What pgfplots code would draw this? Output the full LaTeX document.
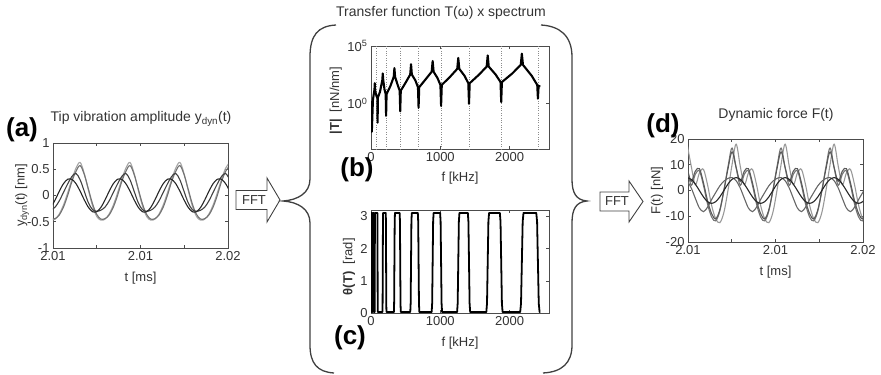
\documentclass[border=0pt]{standalone}
\usepackage{fontspec}
\setmainfont{Liberation Sans}
\usepackage{pgfplots}
\pgfplotsset{compat=1.18}
\usepackage{pgfplotstable}

% (a) tip vibration amplitude, x = time offset (0..10 = 2.010..2.020 ms)
\pgfplotstableread{
x L G K S
-0.1125 -0.47 -0.45 -0.28 -0.226
0.125 -0.45 -0.44 -0.22 -0.083
0.3625 -0.35 -0.37 -0.10 0.083
0.6 -0.18 -0.22 0.06 0.226
0.8375 0.05 0.00 0.22 0.309
1.075 0.30 0.26 0.36 0.309
1.3125 0.52 0.46 0.42 0.226
1.55 0.63 0.57 0.30 0.083
1.7875 0.42 0.40 0.08 -0.083
2.025 0.10 0.12 -0.14 -0.226
2.2625 -0.20 -0.16 -0.27 -0.309
2.5 -0.40 -0.36 -0.30 -0.309
2.7375 -0.47 -0.45 -0.28 -0.226
2.975 -0.45 -0.44 -0.22 -0.083
3.2125 -0.35 -0.37 -0.10 0.083
3.45 -0.18 -0.22 0.06 0.226
3.6875 0.05 0.00 0.22 0.309
3.925 0.30 0.26 0.36 0.309
4.1625 0.52 0.46 0.42 0.226
4.4 0.63 0.57 0.30 0.083
4.6375 0.42 0.40 0.08 -0.083
4.875 0.10 0.12 -0.14 -0.226
5.1125 -0.20 -0.16 -0.27 -0.309
5.35 -0.40 -0.36 -0.30 -0.309
5.5875 -0.47 -0.45 -0.28 -0.226
5.825 -0.45 -0.44 -0.22 -0.083
6.0625 -0.35 -0.37 -0.10 0.083
6.3 -0.18 -0.22 0.06 0.226
6.5375 0.05 0.00 0.22 0.309
6.775 0.30 0.26 0.36 0.309
7.0125 0.52 0.46 0.42 0.226
7.25 0.63 0.57 0.30 0.083
7.4875 0.42 0.40 0.08 -0.083
7.725 0.10 0.12 -0.14 -0.226
7.9625 -0.20 -0.16 -0.27 -0.309
8.2 -0.40 -0.36 -0.30 -0.309
8.4375 -0.47 -0.45 -0.28 -0.226
8.675 -0.45 -0.44 -0.22 -0.083
8.9125 -0.35 -0.37 -0.10 0.083
9.15 -0.18 -0.22 0.06 0.226
9.3875 0.05 0.00 0.22 0.309
9.625 0.30 0.26 0.36 0.309
9.8625 0.52 0.46 0.42 0.226
10.1 0.63 0.57 0.30 0.083
}\tabA

% (d) dynamic force
\pgfplotstableread{
x A B C D1 D2
-0.05 18 8.8 9 5 3.8
0.1833 9.5 2 3.5 4.33 1
0.4167 2.2 6.3 7.5 2.5 -3
0.65 6.8 7.6 8.5 0 -6.8
0.8833 8.2 2 3 -2.5 -8.2
1.1167 2.2 -5.3 -4 -4.33 -6.5
1.35 -5.8 -10.3 -9 -5 -3.5
1.5833 -11 -11.8 -11 -4.33 -0.8
1.8167 -12.5 -8 -7.5 -2.5 1.8
2.05 -8.5 0 0 0 3.6
2.2833 0 9.2 8.4 2.5 4.7
2.5167 10 16.5 15 4.33 5
2.75 18 8.8 9 5 3.8
2.9833 9.5 2 3.5 4.33 1
3.2167 2.2 6.3 7.5 2.5 -3
3.45 6.8 7.6 8.5 0 -6.8
3.6833 8.2 2 3 -2.5 -8.2
3.9167 2.2 -5.3 -4 -4.33 -6.5
4.15 -5.8 -10.3 -9 -5 -3.5
4.3833 -11 -11.8 -11 -4.33 -0.8
4.6167 -12.5 -8 -7.5 -2.5 1.8
4.85 -8.5 0 0 0 3.6
5.0833 0 9.2 8.4 2.5 4.7
5.3167 10 16.5 15 4.33 5
5.55 18 8.8 9 5 3.8
5.7833 9.5 2 3.5 4.33 1
6.0167 2.2 6.3 7.5 2.5 -3
6.25 6.8 7.6 8.5 0 -6.8
6.4833 8.2 2 3 -2.5 -8.2
6.7167 2.2 -5.3 -4 -4.33 -6.5
6.95 -5.8 -10.3 -9 -5 -3.5
7.1833 -11 -11.8 -11 -4.33 -0.8
7.4167 -12.5 -8 -7.5 -2.5 1.8
7.65 -8.5 0 0 0 3.6
7.8833 0 9.2 8.4 2.5 4.7
8.1167 10 16.5 15 4.33 5
8.35 18 8.8 9 5 3.8
8.5833 9.5 2 3.5 4.33 1
8.8167 2.2 6.3 7.5 2.5 -3
9.05 6.8 7.6 8.5 0 -6.8
9.2833 8.2 2 3 -2.5 -8.2
9.5167 2.2 -5.3 -4 -4.33 -6.5
9.75 -5.8 -10.3 -9 -5 -3.5
9.9833 -11 -11.8 -11 -4.33 -0.8
10.2167 -12.5 -8 -7.5 -2.5 1.8
}\tabD

\pgfplotsset{
  panel/.style={
    scale only axis, anchor=south west,
    /pgf/number format/assume math mode=true,
    tick label style={font=\fontsize{13bp}{15bp}\selectfont, text=black!80},
    label style={font=\fontsize{13bp}{15bp}\selectfont, text=black!80},
    axis line style={black!70, line width=0.8pt},
    major tick length=3bp,
    tick style={black!70, line width=0.6pt},
  }
}

\begin{document}
\begin{tikzpicture}
\useasboundingbox (0bp,0bp) rectangle (881bp,375bp);

% ---------------- (a)
\begin{axis}[panel, at={(53bp,127bp)}, width=175bp, height=105bp,
  xmin=0, xmax=10, ymin=-1, ymax=1,
  xtick={0,2.5,5,7.5,10}, xticklabels={2.01,,2.01,,2.02},
  ytick={-1,-0.5,0,0.5,1}, yticklabels={-1,-0.5,0,0.5,1},
  xlabel={t [ms]}, ylabel={y\textsubscript{dyn}(t) [nm]},
  xlabel style={at={(axis description cs:0.5,-0.286)}, anchor=center},
  ylabel style={at={(axis description cs:-0.177,0.5)}, anchor=center}]
\addplot[black!35, line width=1.1pt, smooth, tension=0.55] table[x=x,y=L]{\tabA};
\addplot[black!55, line width=1.1pt, smooth, tension=0.55] table[x=x,y=G]{\tabA};
\addplot[black!75, line width=1.1pt, smooth, tension=0.55] table[x=x,y=K]{\tabA};
\addplot[black!85, line width=1.1pt, smooth] table[x=x,y=S]{\tabA};
\end{axis}

% ---------------- (b)
\begin{axis}[panel, at={(371bp,226bp)}, width=178bp, height=103bp,
  xmin=0, xmax=2570, ymin=-4, ymax=5,
  xtick={0,1000,2000}, xticklabels={0,1000,2000},
  ytick={0,5}, yticklabels={10\textsuperscript{0},10\textsuperscript{5}},
  extra x ticks={75,218,422,687,1012,1415,1880,2410},
  extra x tick labels={},
  extra x tick style={grid=major, major tick length=0pt},
  major grid style={dotted, black!45, line width=0.6pt},
  xlabel={f [kHz]}, ylabel={\textbf{|T|}~~[nN/nm]},
  xlabel style={at={(axis description cs:0.5,-0.28)}, anchor=center},
  ylabel style={at={(axis description cs:-0.197,0.47)}, anchor=center}]
\addplot[black, line width=2.1pt, line join=round] coordinates {
(0,0.2) (12,-2.5) (28,0.3) (50,1.2) (55,1.75) (60,1.1) (80,0.6) (91,0.5)
(95,-1.7) (100,0.5) (130,1.0) (163,2.0) (170,2.6) (177,2.0) (195,1.2) (212,0.8)
(218,-1.1) (225,0.8) (280,1.5) (328,2.3) (338,3.07) (348,2.3) (385,1.6) (414,1.1)
(422,-0.7) (430,1.1) (500,1.8) (566,2.5) (578,3.41) (590,2.5) (640,2.0) (678,1.4)
(687,-0.4) (696,1.4) (790,2.1) (876,2.75) (890,3.69) (904,2.75) (960,2.2) (1002,1.6)
(1012,-0.24) (1022,1.6) (1140,2.3) (1245,3.0) (1260,3.96) (1275,3.0) (1350,2.4) (1405,1.75)
(1415,-0.05) (1425,1.75) (1560,2.5) (1670,3.2) (1685,4.18) (1700,3.2) (1800,2.5) (1870,1.85)
(1880,0.1) (1890,1.85) (2040,2.6) (2162,3.35) (2178,4.33) (2194,3.35) (2320,2.4) (2400,1.6)
(2410,0.4) (2420,1.5) (2446,1.5)
};
\end{axis}

% ---------------- (c)
\begin{axis}[panel, at={(371bp,62bp)}, width=178bp, height=103bp,
  xmin=0, xmax=2570, ymin=0, ymax=3.2,
  xtick={0,1000,2000}, xticklabels={0,1000,2000},
  ytick={0,1,2,3}, yticklabels={0,1,2,3},
  xlabel={f [kHz]}, ylabel={\textbf{θ(T)}~~[rad]},
  xlabel style={at={(axis description cs:0.5,-0.29)}, anchor=center},
  ylabel style={at={(axis description cs:-0.124,0.45)}, anchor=center}]
\addplot[black, line width=1.8pt, line join=round] coordinates {
(0,0.03)
(3,0.03) (3.5,0.3) (4,1.57) (4.5,2.84) (5,3.11) (13,3.11) (13.5,2.84) (14,1.57) (14.5,0.3) (15,0.03)
(22.5,0.03) (23.25,0.3) (24,1.57) (24.75,2.84) (25.5,3.11) (36.5,3.11) (37.25,2.84) (38,1.57) (38.75,0.3) (39.5,0.03)
(52.5,0.03) (53.75,0.3) (55,1.57) (56.25,2.84) (57.5,3.11) (92.5,3.11) (93.75,2.84) (95,1.57) (96.25,0.3) (97.5,0.03)
(165,0.03) (167.5,0.3) (170,1.57) (172.5,2.84) (175,3.11) (213,3.11) (215.5,2.84) (218,1.57) (220.5,0.3) (223,0.03)
(330,0.03) (334,0.3) (338,1.57) (342,2.84) (346,3.11) (414,3.11) (418,2.84) (422,1.57) (426,0.3) (430,0.03)
(567,0.03) (572.5,0.3) (578,1.57) (583.5,2.84) (589,3.11) (676,3.11) (681.5,2.84) (687,1.57) (692.5,0.3) (698,0.03)
(876,0.03) (883,0.3) (890,1.57) (897,2.84) (904,3.11) (998,3.11) (1005,2.84) (1012,1.57) (1019,0.3) (1026,0.03)
(1243,0.03) (1251.5,0.3) (1260,1.57) (1268.5,2.84) (1277,3.11) (1398,3.11) (1406.5,2.84) (1415,1.57) (1423.5,0.3) (1432,0.03)
(1665,0.03) (1675,0.3) (1685,1.57) (1695,2.84) (1705,3.11) (1860,3.11) (1870,2.84) (1880,1.57) (1890,0.3) (1900,0.03)
(2154,0.03) (2166,0.3) (2178,1.57) (2190,2.84) (2202,3.11) (2386,3.11) (2398,2.84) (2410,1.57) (2422,0.3) (2434,0.03)
(2446,0.03)
};
\end{axis}

% ---------------- (d)
\begin{axis}[panel, at={(688bp,133bp)}, width=175bp, height=103bp,
  xmin=0, xmax=10, ymin=-20, ymax=20,
  xtick={0,2.5,5,7.5,10}, xticklabels={2.01,,2.01,,2.02},
  ytick={-20,-10,0,10,20}, yticklabels={-20,-10,0,10,20},
  xlabel={t [ms]}, ylabel={F(t) [nN]},
  xlabel style={at={(axis description cs:0.5,-0.29)}, anchor=center},
  ylabel style={at={(axis description cs:-0.177,0.5)}, anchor=center}]
\addplot[black!40, line width=1.1pt, smooth, tension=0.55] table[x=x,y=A]{\tabD};
\addplot[black!55, line width=1.1pt, smooth, tension=0.55] table[x=x,y=B]{\tabD};
\addplot[black!65, line width=1.1pt, smooth, tension=0.55] table[x=x,y=C]{\tabD};
\addplot[black!60, line width=1.1pt, smooth] table[x=x,y=D2]{\tabD};
\addplot[black!85, line width=1.1pt, smooth] table[x=x,y=D1]{\tabD};
\end{axis}

\begin{scope}[x=1bp,y=1bp]
% titles and panel letters
\node[font=\fontsize{14bp}{16bp}\selectfont, text=black!80] at (141,256) {Tip vibration amplitude y\textsubscript{dyn}(t)};
\node[font=\fontsize{14bp}{16bp}\selectfont, text=black!80] at (776,260) {Dynamic force F(t)};
\node[font=\fontsize{14bp}{16bp}\selectfont, text=black!80] at (441,362) {Transfer function T(ω) x spectrum};
\node[font=\fontsize{26bp}{30bp}\selectfont\bfseries] at (22,245) {(a)};
\node[font=\fontsize{26bp}{30bp}\selectfont\bfseries] at (357,205) {(b)};
\node[font=\fontsize{26bp}{30bp}\selectfont\bfseries] at (350,37) {(c)};
\node[font=\fontsize{26bp}{30bp}\selectfont\bfseries] at (663,249) {(d)};

% FFT arrows
\draw[black!75, line width=0.9pt, fill=white, line join=miter]
  (236,184.5)--(267,184.5)--(267,197)--(280,175)--(267,153)--(267,165.5)--(236,165.5)--cycle;
\node[font=\fontsize{13bp}{15bp}\selectfont, text=black!80] at (254,175) {FFT};
\draw[black!75, line width=0.9pt, fill=white, line join=miter]
  (600,183)--(629,183)--(629,194)--(643,173.5)--(629,153)--(629,164)--(600,164)--cycle;
\node[font=\fontsize{13bp}{15bp}\selectfont, text=black!80] at (617,173.5) {FFT};

% braces
\draw[black!75, line width=1.3pt]
  (336,350) .. controls (318,349) and (310,340) .. (310,318) -- (310,196)
  .. controls (310,182) and (298,175) .. (283,174)
  .. controls (298,173) and (310,166) .. (310,152) -- (310,30)
  .. controls (310,12) and (317,3) .. (334,2);
\draw[black!75, line width=1.3pt]
  (541,350) .. controls (559,349) and (572,340) .. (572,318) -- (572,196)
  .. controls (572,182) and (576,175) .. (587,174)
  .. controls (576,173) and (572,166) .. (572,152) -- (572,30)
  .. controls (572,12) and (562,3) .. (543,2);
\end{scope}
\end{tikzpicture}
\end{document}
